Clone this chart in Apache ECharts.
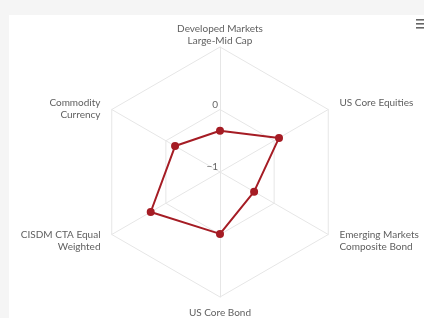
<!DOCTYPE html>
<html>
<head>
<meta charset="utf-8">
<script src="https://cdn.jsdelivr.net/npm/echarts@6/dist/echarts.min.js"></script>
<style>
  html, body { margin: 0; padding: 0; background: #f5f5f5; }
  .panel { position: absolute; left: 9px; top: 15px; width: 415px; height: 303px; background: #fff; }
  #chart { position: absolute; left: 0; top: 0; width: 424px; height: 318px; }
</style>
</head>
<body>
<div class="panel"></div>
<div id="chart"></div>
<script>
  // axes listed counter-clockwise from the top (echarts radar order)
  var categories = [
    'Developed Markets\nLarge-Mid Cap',
    'Commodity\nCurrency',
    'CISDM CTA Equal\nWeighted',
    'US Core Bond',
    'Emerging Markets\nComposite Bond',
    'US Core Equities'
  ];
  var values = [-0.34, -0.17, 0.28, -0.01, -0.37, 0.09];
  var nameGaps = [0, 13, 13, 10, 13, 13];
  var axisMin = -1;
  var axisMax = 1;

  var chart = echarts.init(document.getElementById('chart'));

  var indicators = categories.map(function (name, i) {
    var ind = { name: name, min: axisMin, max: axisMax, nameGap: nameGaps[i] };
    // only the first axis carries tick labels, like the original
    if (i === 0) {
      ind.axisLabel = {
        show: true,
        color: '#666',
        fontSize: 10,
        fontFamily: 'Lato',
        margin: 2,
        verticalAlign: 'bottom',
        formatter: function (v) { return v === axisMax ? '' : String(v).replace('-', '\u2212'); }
      };
    }
    return ind;
  });

  var option = {
    animation: false,
    radar: {
      center: [220, 172],
      radius: 125,
      startAngle: 90,
      shape: 'polygon',
      splitNumber: 2,
      indicator: indicators,
      nameGap: 10,
      axisName: {
        color: '#606060',
        fontSize: 10,
        fontFamily: 'Lato',
        lineHeight: 12,
        // the upper-left two-line label sits lower in the original
        formatter: function (name) {
          return name === categories[1] ? '\n' + name : name;
        }
      },
      axisLine: { lineStyle: { color: '#e6e6e6', width: 1 } },
      splitLine: { lineStyle: { color: '#e6e6e6', width: 1 } },
      splitArea: { show: false },
      axisLabel: { show: false }
    },
    graphic: [
      { type: 'rect', shape: { x: 416, y: 19, width: 8, height: 1.6 }, style: { fill: '#666' } },
      { type: 'rect', shape: { x: 416, y: 23, width: 8, height: 1.6 }, style: { fill: '#666' } },
      { type: 'rect', shape: { x: 416, y: 27, width: 8, height: 1.6 }, style: { fill: '#666' } }
    ],
    series: [{
      type: 'radar',
      symbol: 'circle',
      symbolSize: 8,
      lineStyle: { color: '#a51c24', width: 2 },
      itemStyle: { color: '#a51c24' },
      data: [{ value: values }]
    }]
  };
  chart.setOption(option);
</script>
</body>
</html>
